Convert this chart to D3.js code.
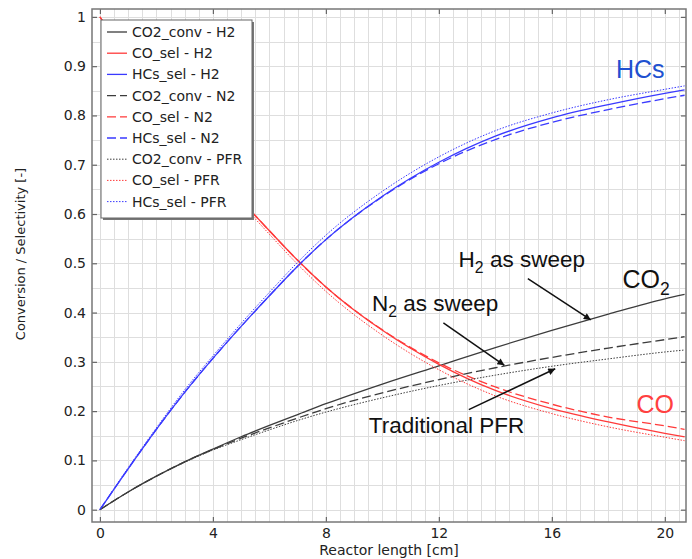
<!DOCTYPE html>
<html>
<head>
<meta charset="utf-8">
<script src="https://cdn.jsdelivr.net/npm/d3@7"></script>
<style>
  body { margin: 0; background: #fff; }
  svg { display: block; }
</style>
</head>
<body>
<div id="viz"></div>
<script>
// Datos (longitud del reactor en cm)
const longitud = [0, 1, 2, 3, 4, 5, 6, 7, 8, 10, 12, 14, 16, 18, 20, 20.7];

const co2ConvH2 = [0, 0.036, 0.068, 0.097, 0.123, 0.148, 0.171, 0.193, 0.215, 0.255, 0.292, 0.329, 0.364, 0.397, 0.428, 0.437];
const coSelH2 = [1, 0.917, 0.837, 0.762, 0.693, 0.628, 0.566, 0.506, 0.452, 0.364, 0.295, 0.242, 0.205, 0.178, 0.155, 0.148];
const hcsSelH2 = [0, 0.083, 0.163, 0.238, 0.307, 0.372, 0.434, 0.494, 0.548, 0.636, 0.705, 0.758, 0.795, 0.822, 0.845, 0.852];

const co2ConvN2 = [0, 0.036, 0.068, 0.097, 0.122, 0.145, 0.166, 0.186, 0.205, 0.237, 0.264, 0.288, 0.309, 0.328, 0.345, 0.351];
const coSelN2 = [1, 0.917, 0.837, 0.762, 0.693, 0.628, 0.566, 0.506, 0.452, 0.365, 0.298, 0.249, 0.214, 0.188, 0.170, 0.163];
const hcsSelN2 = [0, 0.083, 0.163, 0.238, 0.307, 0.372, 0.434, 0.494, 0.548, 0.635, 0.702, 0.751, 0.786, 0.812, 0.834, 0.841];

const co2ConvPFR = [0, 0.036, 0.068, 0.096, 0.121, 0.142, 0.162, 0.181, 0.198, 0.227, 0.252, 0.273, 0.291, 0.306, 0.320, 0.324];
const coSelPFR = [1, 0.915, 0.834, 0.757, 0.688, 0.622, 0.559, 0.498, 0.443, 0.354, 0.284, 0.231, 0.195, 0.168, 0.147, 0.140];
const hcsSelPFR = [0, 0.085, 0.166, 0.243, 0.312, 0.378, 0.441, 0.502, 0.557, 0.646, 0.716, 0.769, 0.805, 0.832, 0.853, 0.860];

const nombresSeries = ['CO2_conv - H2', 'CO_sel - H2', 'HCs_sel - H2',
                       'CO2_conv - N2', 'CO_sel - N2', 'HCs_sel - N2',
                       'CO2_conv - PFR', 'CO_sel - PFR', 'HCs_sel - PFR'];
const valoresSeries = [co2ConvH2, coSelH2, hcsSelH2, co2ConvN2, coSelN2, hcsSelN2, co2ConvPFR, coSelPFR, hcsSelPFR];

const ticksX = [0, 4, 8, 12, 16, 20];
const ticksY = [0, 0.1, 0.2, 0.3, 0.4, 0.5, 0.6, 0.7, 0.8, 0.9, 1];

// Estilo por serie (color según especie, trazo según caso)
const colores = ['#3c3c3c', '#ff3a3a', '#3a3aff'];
const trazos = [null, '9,4', '1.5,1.5'];

const width = 692;
const height = 559;

const x = d3.scaleLinear().domain([-0.28, 20.75]).range([92, 686]);
const y = d3.scaleLinear().domain([-0.025, 1.016]).range([522, 9]);

const svg = d3.select('#viz').append('svg')
    .attr('width', width)
    .attr('height', height);

svg.append('defs').append('clipPath').attr('id', 'recorte')
    .append('rect')
    .attr('x', x.range()[0]).attr('y', y.range()[1])
    .attr('width', x.range()[1] - x.range()[0])
    .attr('height', y.range()[0] - y.range()[1]);

// Rejilla fina
const rejilla = svg.append('g').attr('stroke', '#dedede').attr('stroke-width', 1);
rejilla.selectAll('.gx')
    .data(d3.range(0, 20.75, 0.5))
    .enter().append('line')
    .attr('x1', d => Math.round(x(d)) + 0.5).attr('x2', d => Math.round(x(d)) + 0.5)
    .attr('y1', y.range()[1]).attr('y2', y.range()[0]);
rejilla.selectAll('.gy')
    .data(d3.range(0, 1.001, 0.05))
    .enter().append('line')
    .attr('y1', d => Math.round(y(d)) + 0.5).attr('y2', d => Math.round(y(d)) + 0.5)
    .attr('x1', x.range()[0]).attr('x2', x.range()[1]);

// Curvas
const linea = d3.line()
    .x((d, i) => x(longitud[i]))
    .y(d => y(d))
    .curve(d3.curveMonotoneX);

svg.append('g').attr('clip-path', 'url(#recorte)')
    .selectAll('path')
    .data(valoresSeries)
    .enter().append('path')
    .attr('d', linea)
    .attr('fill', 'none')
    .attr('stroke', (d, i) => colores[i % 3])
    .attr('stroke-width', (d, i) => i >= 6 ? 1 : 1.3)
    .attr('stroke-dasharray', (d, i) => trazos[Math.floor(i / 3)]);

// Ejes con ticks hacia dentro en los cuatro lados
const fuenteEje = 'DejaVu Sans, sans-serif';
const ejeAbajo = d3.axisBottom(x).tickValues(ticksX).tickSizeInner(-5).tickSizeOuter(0).tickPadding(6);
const ejeArriba = d3.axisTop(x).tickValues(ticksX).tickSizeInner(-5).tickSizeOuter(0).tickFormat('');
const ejeIzq = d3.axisLeft(y).tickValues(ticksY).tickSizeInner(-5).tickSizeOuter(0).tickPadding(6).tickFormat(d3.format('~g'));
const ejeDer = d3.axisRight(y).tickValues(ticksY).tickSizeInner(-5).tickSizeOuter(0).tickFormat('');

function estiloEje(g) {
    g.select('.domain').remove();
    g.selectAll('line').attr('stroke', '#666').attr('stroke-width', 1.2);
    g.selectAll('text').attr('fill', '#222').style('font-family', fuenteEje).style('font-size', '14px');
}

svg.append('g').attr('transform', `translate(0,${y.range()[0]})`).call(ejeAbajo).call(estiloEje);
svg.append('g').attr('transform', `translate(0,${y.range()[1]})`).call(ejeArriba).call(estiloEje);
svg.append('g').attr('transform', `translate(${x.range()[0]},0)`).call(ejeIzq).call(estiloEje);
svg.append('g').attr('transform', `translate(${x.range()[1]},0)`).call(ejeDer).call(estiloEje);

// Marco
svg.append('rect')
    .attr('x', x.range()[0]).attr('y', y.range()[1])
    .attr('width', x.range()[1] - x.range()[0])
    .attr('height', y.range()[0] - y.range()[1])
    .attr('fill', 'none').attr('stroke', '#777').attr('stroke-width', 1.5);

// Títulos de ejes
svg.append('text')
    .attr('x', (x.range()[0] + x.range()[1]) / 2 - 0)
    .attr('y', 555)
    .attr('text-anchor', 'middle')
    .style('font-family', fuenteEje).style('font-size', '14px').attr('fill', '#222')
    .text('Reactor length [cm]');

svg.append('text')
    .attr('transform', 'translate(25,254) rotate(-90)')
    .attr('text-anchor', 'middle')
    .style('font-family', fuenteEje).style('font-size', '13px').attr('fill', '#222')
    .text('Conversion / Selectivity [-]');

// Leyenda
const leyenda = svg.append('g').attr('transform', 'translate(101,20)');
leyenda.append('rect').attr('x', 2).attr('y', 2).attr('width', 151).attr('height', 198).attr('fill', '#777');
leyenda.append('rect').attr('width', 151).attr('height', 198).attr('fill', '#fff').attr('stroke', '#666').attr('stroke-width', 1);

const filas = leyenda.selectAll('.fila')
    .data(nombresSeries)
    .enter().append('g')
    .attr('transform', (d, i) => `translate(0,${12 + i * 21.2})`);

filas.append('line')
    .attr('x1', 6).attr('x2', 26).attr('y1', 0).attr('y2', 0)
    .attr('stroke', (d, i) => colores[i % 3])
    .attr('stroke-width', (d, i) => i >= 6 ? 1 : 1.3)
    .attr('stroke-dasharray', (d, i) => trazos[Math.floor(i / 3)]);

filas.append('text')
    .attr('x', 31).attr('y', 5)
    .style('font-family', fuenteEje).style('font-size', '14px').attr('fill', '#222')
    .text(d => d);

// Anotaciones
const fuenteNota = 'Liberation Sans, Arial, sans-serif';

function nota(texto, sub, resto, xv, yv, color, tam) {
    const t = svg.append('text')
        .attr('x', x(xv)).attr('y', y(yv))
        .attr('fill', color)
        .style('font-family', fuenteNota).style('font-size', tam + 'px');
    t.append('tspan').text(texto);
    if (sub) {
        t.append('tspan').attr('dy', tam * 0.3).style('font-size', (tam * 0.7) + 'px').text(sub);
        t.append('tspan').attr('dy', -tam * 0.3).text(resto);
    }
}

nota('HCs', null, null, 18.27, 0.876, '#2050d0', 25);
nota('CO', null, null, 19.0, 0.197, '#ff4040', 25);
nota('CO', '2', '', 18.5, 0.45, '#111', 25);
nota('H', '2', ' as sweep', 12.7, 0.493, '#111', 22.5);
nota('N', '2', ' as sweep', 9.63, 0.404, '#111', 22.5);
nota('Traditional PFR', null, null, 9.52, 0.156, '#111', 22.5);

// Flechas
const flechas = [
    { x1: 15.15, y1: 0.469, x2: 17.38, y2: 0.385 },
    { x1: 12.16, y1: 0.379, x2: 14.32, y2: 0.293 },
    { x1: 13.06, y1: 0.203, x2: 16.12, y2: 0.286 }
];

svg.select('defs').append('marker')
    .attr('id', 'punta')
    .attr('viewBox', '0 0 10 10')
    .attr('refX', 10).attr('refY', 5)
    .attr('markerWidth', 9).attr('markerHeight', 7)
    .attr('markerUnits', 'userSpaceOnUse')
    .attr('orient', 'auto')
    .append('path').attr('d', 'M0,0 L10,5 L0,10 z').attr('fill', '#111');

svg.selectAll('.flecha')
    .data(flechas)
    .enter().append('line')
    .attr('x1', d => x(d.x1)).attr('y1', d => y(d.y1))
    .attr('x2', d => x(d.x2)).attr('y2', d => y(d.y2))
    .attr('stroke', '#111').attr('stroke-width', 1.5)
    .attr('marker-end', 'url(#punta)');
</script>
</body>
</html>
